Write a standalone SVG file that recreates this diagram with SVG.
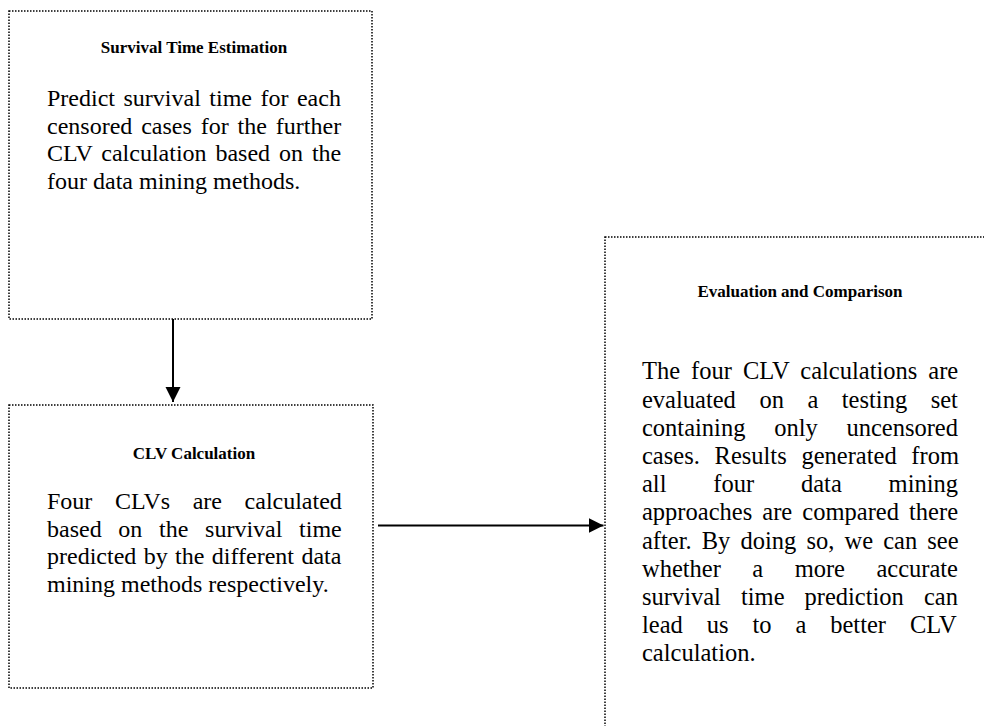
<svg xmlns="http://www.w3.org/2000/svg" width="984" height="726" viewBox="0 0 984 726">
<style>
.box{fill:#fff;stroke:#000;stroke-width:1.5;stroke-dasharray:1.5 1.5}
.ttl{font-family:"Liberation Serif","Times New Roman",serif;font-weight:bold;font-size:17px;text-anchor:middle;fill:#000}
.bd{font-family:"Liberation Serif","Times New Roman",serif;font-size:24px;fill:#000}
.bd3{font-family:"Liberation Serif","Times New Roman",serif;font-size:24.5px;fill:#000}
.conn{stroke:#000;stroke-width:2;fill:none}
</style>
<defs>
<marker id="ah" markerUnits="userSpaceOnUse" markerWidth="16" markerHeight="16" refX="15" refY="7.5" orient="auto">
<path d="M0,0 L15,7.5 L0,15 z" fill="#000"/>
</marker>
</defs>
<rect width="984" height="726" fill="#fff"/>
<g id="survival-time-estimation">
<rect class="box" x="9" y="11" width="363" height="308"/>
<text class="ttl" x="194" y="53">Survival Time Estimation</text>
<text class="bd" x="47" y="106" word-spacing="2.5">Predict survival time for each</text>
<text class="bd" x="47" y="133.5" word-spacing="2.9">censored cases for the further</text>
<text class="bd" x="47" y="161" word-spacing="2.9">CLV calculation based on the</text>
<text class="bd" x="47" y="188.5">four data mining methods.</text>
</g>
<g id="clv-calculation">
<rect class="box" x="9" y="405" width="364" height="283"/>
<text class="ttl" x="194" y="459">CLV Calculation</text>
<text class="bd" x="47" y="509" word-spacing="16.6">Four CLVs are calculated</text>
<text class="bd" x="47" y="536.6" word-spacing="10.7">based on the survival time</text>
<text class="bd" x="47" y="564.2" word-spacing="1.4">predicted by the different data</text>
<text class="bd" x="47" y="591.8">mining methods respectively.</text>
</g>
<g id="evaluation-and-comparison">
<rect class="box" x="605" y="237" width="382" height="520"/>
<text class="ttl" x="800" y="297">Evaluation and Comparison</text>
<text class="bd3" x="642" y="379.3" word-spacing="4.9">The four CLV calculations are</text>
<text class="bd3" x="642" y="407.5" word-spacing="17.4">evaluated on a testing set</text>
<text class="bd3" x="642" y="435.7" word-spacing="22.6">containing only uncensored</text>
<text class="bd3" x="642" y="463.9" word-spacing="8.6">cases. Results generated from</text>
<text class="bd3" x="642" y="492.1" word-spacing="40.7">all four data mining</text>
<text class="bd3" x="642" y="520.3" word-spacing="4.0">approaches are compared there</text>
<text class="bd3" x="642" y="548.5" word-spacing="4.0">after. By doing so, we can see</text>
<text class="bd3" x="642" y="576.7" word-spacing="25.3">whether a more accurate</text>
<text class="bd3" x="642" y="604.9" word-spacing="13.9">survival time prediction can</text>
<text class="bd3" x="642" y="633.1" word-spacing="17.8">lead us to a better CLV</text>
<text class="bd3" x="642" y="661.3">calculation.</text>
</g>
<g id="connectors">
<line class="conn" x1="173" y1="319" x2="173" y2="402" marker-end="url(#ah)"/>
<line class="conn" x1="378" y1="525.5" x2="603.5" y2="525.5" marker-end="url(#ah)"/>
</g>
</svg>
